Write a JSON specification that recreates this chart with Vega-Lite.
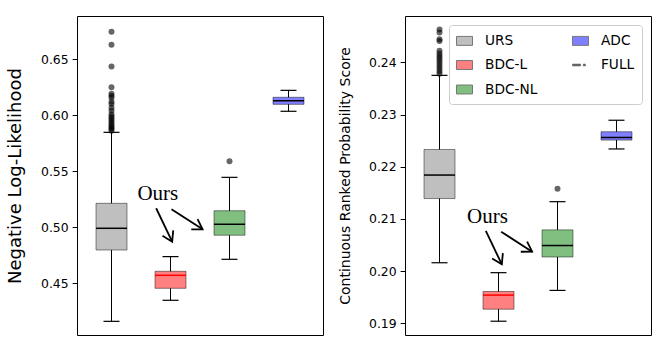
{
  "$schema": "https://vega.github.io/schema/vega-lite/v6.json",
  "padding": {"left": 6, "top": 15, "right": 14, "bottom": 16},
  "spacing": 82,
  "bounds": "flush",
  "config": {
    "view": {"stroke": "#000000", "strokeWidth": 1},
    "axis": {"labelFont": "DejaVu Sans", "labelFontSize": 12.4, "labelColor": "#000000", "tickColor": "#000000", "tickSize": 4.9, "tickWidth": 1, "labelPadding": 4, "titleFont": "DejaVu Sans", "titleFontWeight": "normal", "titleColor": "#000000", "grid": false, "domain": false}
  },
  "datasets": {
    "nll": [
      {"method": "URS", "pos": 1, "low": 0.416, "q1": 0.4797, "med": 0.4991, "q3": 0.5214, "high": 0.5848},
      {"method": "BDC-L", "pos": 2, "low": 0.4348, "q1": 0.4455, "med": 0.4571, "q3": 0.4607, "high": 0.4738},
      {"method": "BDC-NL", "pos": 3, "low": 0.4714, "q1": 0.4929, "med": 0.5027, "q3": 0.5148, "high": 0.5446},
      {"method": "ADC", "pos": 4, "low": 0.6036, "q1": 0.6098, "med": 0.613, "q3": 0.6161, "high": 0.6223}
    ],
    "nll_out": [
      {"pos": 1, "v": 0.6746}, {"pos": 1, "v": 0.663}, {"pos": 1, "v": 0.6437}, {"pos": 1, "v": 0.625},
      {"pos": 1, "v": 0.6193}, {"pos": 1, "v": 0.6175}, {"pos": 1, "v": 0.6157}, {"pos": 1, "v": 0.6122},
      {"pos": 1, "v": 0.61}, {"pos": 1, "v": 0.6068}, {"pos": 1, "v": 0.604}, {"pos": 1, "v": 0.6009},
      {"pos": 1, "v": 0.599}, {"pos": 1, "v": 0.5973}, {"pos": 1, "v": 0.5955}, {"pos": 1, "v": 0.5937},
      {"pos": 1, "v": 0.592}, {"pos": 1, "v": 0.5904}, {"pos": 1, "v": 0.589}, {"pos": 1, "v": 0.5877},
      {"pos": 1, "v": 0.5862},
      {"pos": 3, "v": 0.5589}
    ],
    "crps": [
      {"method": "URS", "pos": 1, "low": 0.2016, "q1": 0.2139, "med": 0.2184, "q3": 0.2233, "high": 0.2375},
      {"method": "BDC-L", "pos": 2, "low": 0.1904, "q1": 0.1927, "med": 0.1954, "q3": 0.1961, "high": 0.1997},
      {"method": "BDC-NL", "pos": 3, "low": 0.1963, "q1": 0.2027, "med": 0.2049, "q3": 0.2079, "high": 0.2133},
      {"method": "ADC", "pos": 4, "low": 0.2234, "q1": 0.2251, "med": 0.2256, "q3": 0.2267, "high": 0.2289}
    ],
    "crps_out": [
      {"pos": 1, "v": 0.2463}, {"pos": 1, "v": 0.2457}, {"pos": 1, "v": 0.2444}, {"pos": 1, "v": 0.2441},
      {"pos": 1, "v": 0.2422}, {"pos": 1, "v": 0.2417}, {"pos": 1, "v": 0.2412}, {"pos": 1, "v": 0.2408},
      {"pos": 1, "v": 0.2403}, {"pos": 1, "v": 0.2398}, {"pos": 1, "v": 0.2393}, {"pos": 1, "v": 0.2388},
      {"pos": 1, "v": 0.2383}, {"pos": 1, "v": 0.2378},
      {"pos": 3, "v": 0.2158}
    ],
    "nll_ann": [
      {"id": "a", "x0": 1.757, "y0": 0.517, "x1": 2.028, "y1": 0.4871},
      {"id": "b", "x0": 2.017, "y0": 0.5161, "x1": 2.544, "y1": 0.4982}
    ],
    "nll_txt": [{"label": "Ours", "x": 1.785, "y": 0.53}],
    "crps_ann": [
      {"id": "a", "x0": 1.785, "y0": 0.2077, "x1": 2.056, "y1": 0.2013},
      {"id": "b", "x0": 2.045, "y0": 0.20755, "x1": 2.57, "y1": 0.20372}
    ],
    "crps_txt": [{"label": "Ours", "x": 1.813, "y": 0.2104}]
  },
  "hconcat": [
    {
      "width": 246,
      "height": 319,
      "layer": [
        {
          "data": {"name": "nll"},
          "mark": {"type": "rule", "color": "#000000", "strokeWidth": 1},
          "encoding": {
            "x": {"field": "pos", "type": "quantitative", "scale": {"domain": [0.5, 4.5], "nice": false, "zero": false}, "axis": null},
            "y": {"field": "low", "type": "quantitative", "scale": {"domain": [0.4038, 0.6887], "nice": false, "zero": false},
                  "axis": {"title": "Negative Log-Likelihood", "titleFontSize": 18, "values": [0.45, 0.5, 0.55, 0.6, 0.65], "format": ".2f", "titlePadding": 16}},
            "y2": {"field": "high"}
          }
        },
        {
          "data": {"name": "nll"},
          "mark": {"type": "bar", "size": 31, "stroke": "#000000", "strokeOpacity": 0.45, "strokeWidth": 1},
          "encoding": {
            "x": {"field": "pos", "type": "quantitative"},
            "y": {"field": "q1", "type": "quantitative"},
            "y2": {"field": "q3"},
            "color": {"field": "method", "type": "nominal", "legend": null,
                      "scale": {"domain": ["URS", "BDC-L", "BDC-NL", "ADC", "FULL"], "range": ["#bfbfbf", "#ff8080", "#80bf80", "#8080ff", "#000000"]}}
          }
        },
        {
          "data": {"name": "nll"},
          "mark": {"type": "tick", "orient": "horizontal", "size": 31, "thickness": 1.5, "opacity": 1},
          "encoding": {
            "x": {"field": "pos", "type": "quantitative"},
            "y": {"field": "med", "type": "quantitative"},
            "color": {"condition": {"test": "datum.method === 'BDC-L'", "value": "#ff0000"}, "value": "#000000"}
          }
        },
        {
          "data": {"name": "nll"},
          "mark": {"type": "tick", "orient": "horizontal", "size": 16, "thickness": 1.2, "color": "#000000", "opacity": 1},
          "encoding": {
            "x": {"field": "pos", "type": "quantitative"},
            "y": {"field": "low", "type": "quantitative"}
          }
        },
        {
          "data": {"name": "nll"},
          "mark": {"type": "tick", "orient": "horizontal", "size": 16, "thickness": 1.2, "color": "#000000", "opacity": 1},
          "encoding": {
            "x": {"field": "pos", "type": "quantitative"},
            "y": {"field": "high", "type": "quantitative"}
          }
        },
        {
          "data": {"name": "nll_out"},
          "mark": {"type": "circle", "size": 36, "color": "#000000", "opacity": 0.6},
          "encoding": {
            "x": {"field": "pos", "type": "quantitative"},
            "y": {"field": "v", "type": "quantitative"}
          }
        },
        {
          "data": {"name": "nll_txt"},
          "mark": {"type": "text", "font": "Liberation Serif", "fontSize": 21, "color": "#000000", "align": "center", "baseline": "middle"},
          "encoding": {
            "x": {"field": "x", "type": "quantitative"},
            "y": {"field": "y", "type": "quantitative"},
            "text": {"field": "label"}
          }
        },
        {
          "data": {"name": "nll_ann"},
          "mark": {"type": "rule", "color": "#000000", "strokeWidth": 1.8},
          "encoding": {
            "x": {"field": "x0", "type": "quantitative"},
            "y": {"field": "y0", "type": "quantitative"},
            "x2": {"field": "x1"},
            "y2": {"field": "y1"}
          }
        },
        {
          "data": {"name": "nll_ann"},
          "mark": {"type": "point", "shape": "M-1.6,-1L0,0L-1.6,1", "size": 144, "filled": false, "color": "#000000", "strokeWidth": 1.8, "opacity": 1},
          "encoding": {
            "x": {"field": "x1", "type": "quantitative"},
            "y": {"field": "y1", "type": "quantitative"},
            "angle": {"condition": {"test": "datum.id === 'a'", "value": 63.4}, "value": 31.7}
          }
        }
      ]
    },
    {
      "width": 246,
      "height": 319,
      "layer": [
        {
          "data": {"name": "crps"},
          "mark": {"type": "rule", "color": "#000000", "strokeWidth": 1},
          "encoding": {
            "x": {"field": "pos", "type": "quantitative", "scale": {"domain": [0.5, 4.5], "nice": false, "zero": false}, "axis": null},
            "y": {"field": "low", "type": "quantitative", "scale": {"domain": [0.18776, 0.24887], "nice": false, "zero": false},
                  "axis": {"title": "Continuous Ranked Probability Score", "titleFontSize": 14, "values": [0.19, 0.2, 0.21, 0.22, 0.23, 0.24], "format": ".2f", "titlePadding": 16}},
            "y2": {"field": "high"}
          }
        },
        {
          "data": {"name": "crps"},
          "mark": {"type": "bar", "size": 31, "stroke": "#000000", "strokeOpacity": 0.45, "strokeWidth": 1},
          "encoding": {
            "x": {"field": "pos", "type": "quantitative"},
            "y": {"field": "q1", "type": "quantitative"},
            "y2": {"field": "q3"},
            "color": {"field": "method", "type": "nominal",
                      "scale": {"domain": ["URS", "BDC-L", "BDC-NL", "ADC", "FULL"], "range": ["#bfbfbf", "#ff8080", "#80bf80", "#8080ff", "#000000"]},
                      "legend": {
                        "title": null, "orient": "top-right", "offset": 9, "columns": 2, "columnPadding": 32, "rowPadding": 8.5,
                        "labelFont": "DejaVu Sans", "labelFontSize": 13.7, "labelColor": "#000000", "labelOffset": 12,
                        "symbolSize": 256, "symbolOpacity": 1, "symbolStrokeColor": "#777777", "symbolStrokeWidth": 1,
                        "padding": 7, "strokeColor": "#cccccc", "fillColor": "#ffffff", "cornerRadius": 3
                      }}
          }
        },
        {
          "data": {"name": "crps"},
          "mark": {"type": "point", "filled": true, "opacity": 0, "size": 1, "stroke": "#777777", "strokeWidth": 1},
          "encoding": {
            "x": {"field": "pos", "type": "quantitative"},
            "y": {"field": "med", "type": "quantitative"},
            "color": {"field": "method", "type": "nominal"},
            "shape": {"field": "method", "type": "nominal",
                      "scale": {"domain": ["URS", "BDC-L", "BDC-NL", "ADC", "FULL"],
                                "range": ["M-1,-0.56H1V0.56H-1Z", "M-1,-0.56H1V0.56H-1Z", "M-1,-0.56H1V0.56H-1Z", "M-1,-0.56H1V0.56H-1Z", "M-1,-0.1H0V0.1H-1Z M0.35,-0.1H0.6V0.1H0.35Z"]},
                      "legend": {
                        "title": null, "orient": "top-right", "offset": 9, "columns": 2, "columnPadding": 32, "rowPadding": 8.5,
                        "labelFont": "DejaVu Sans", "labelFontSize": 13.7, "labelColor": "#000000", "labelOffset": 12,
                        "symbolSize": 256, "symbolOpacity": 1, "symbolStrokeColor": "#777777", "symbolStrokeWidth": 1,
                        "padding": 7, "strokeColor": "#cccccc", "fillColor": "#ffffff", "cornerRadius": 3
                      }}
          }
        },
        {
          "data": {"name": "crps"},
          "mark": {"type": "tick", "orient": "horizontal", "size": 31, "thickness": 1.5, "opacity": 1},
          "encoding": {
            "x": {"field": "pos", "type": "quantitative"},
            "y": {"field": "med", "type": "quantitative"},
            "color": {"condition": {"test": "datum.method === 'BDC-L'", "value": "#ff0000"}, "value": "#000000"}
          }
        },
        {
          "data": {"name": "crps"},
          "mark": {"type": "tick", "orient": "horizontal", "size": 16, "thickness": 1.2, "color": "#000000", "opacity": 1},
          "encoding": {
            "x": {"field": "pos", "type": "quantitative"},
            "y": {"field": "low", "type": "quantitative"}
          }
        },
        {
          "data": {"name": "crps"},
          "mark": {"type": "tick", "orient": "horizontal", "size": 16, "thickness": 1.2, "color": "#000000", "opacity": 1},
          "encoding": {
            "x": {"field": "pos", "type": "quantitative"},
            "y": {"field": "high", "type": "quantitative"}
          }
        },
        {
          "data": {"name": "crps_out"},
          "mark": {"type": "circle", "size": 36, "color": "#000000", "opacity": 0.6},
          "encoding": {
            "x": {"field": "pos", "type": "quantitative"},
            "y": {"field": "v", "type": "quantitative"}
          }
        },
        {
          "data": {"name": "crps_txt"},
          "mark": {"type": "text", "font": "Liberation Serif", "fontSize": 21, "color": "#000000", "align": "center", "baseline": "middle"},
          "encoding": {
            "x": {"field": "x", "type": "quantitative"},
            "y": {"field": "y", "type": "quantitative"},
            "text": {"field": "label"}
          }
        },
        {
          "data": {"name": "crps_ann"},
          "mark": {"type": "rule", "color": "#000000", "strokeWidth": 1.8},
          "encoding": {
            "x": {"field": "x0", "type": "quantitative"},
            "y": {"field": "y0", "type": "quantitative"},
            "x2": {"field": "x1"},
            "y2": {"field": "y1"}
          }
        },
        {
          "data": {"name": "crps_ann"},
          "mark": {"type": "point", "shape": "M-1.6,-1L0,0L-1.6,1", "size": 144, "filled": false, "color": "#000000", "strokeWidth": 1.8, "opacity": 1},
          "encoding": {
            "x": {"field": "x1", "type": "quantitative"},
            "y": {"field": "y1", "type": "quantitative"},
            "angle": {"condition": {"test": "datum.id === 'a'", "value": 63.4}, "value": 31.7}
          }
        }
      ]
    }
  ],
  "resolve": {"scale": {"y": "independent", "x": "independent"}, "legend": {"color": "independent", "shape": "independent"}}
}
